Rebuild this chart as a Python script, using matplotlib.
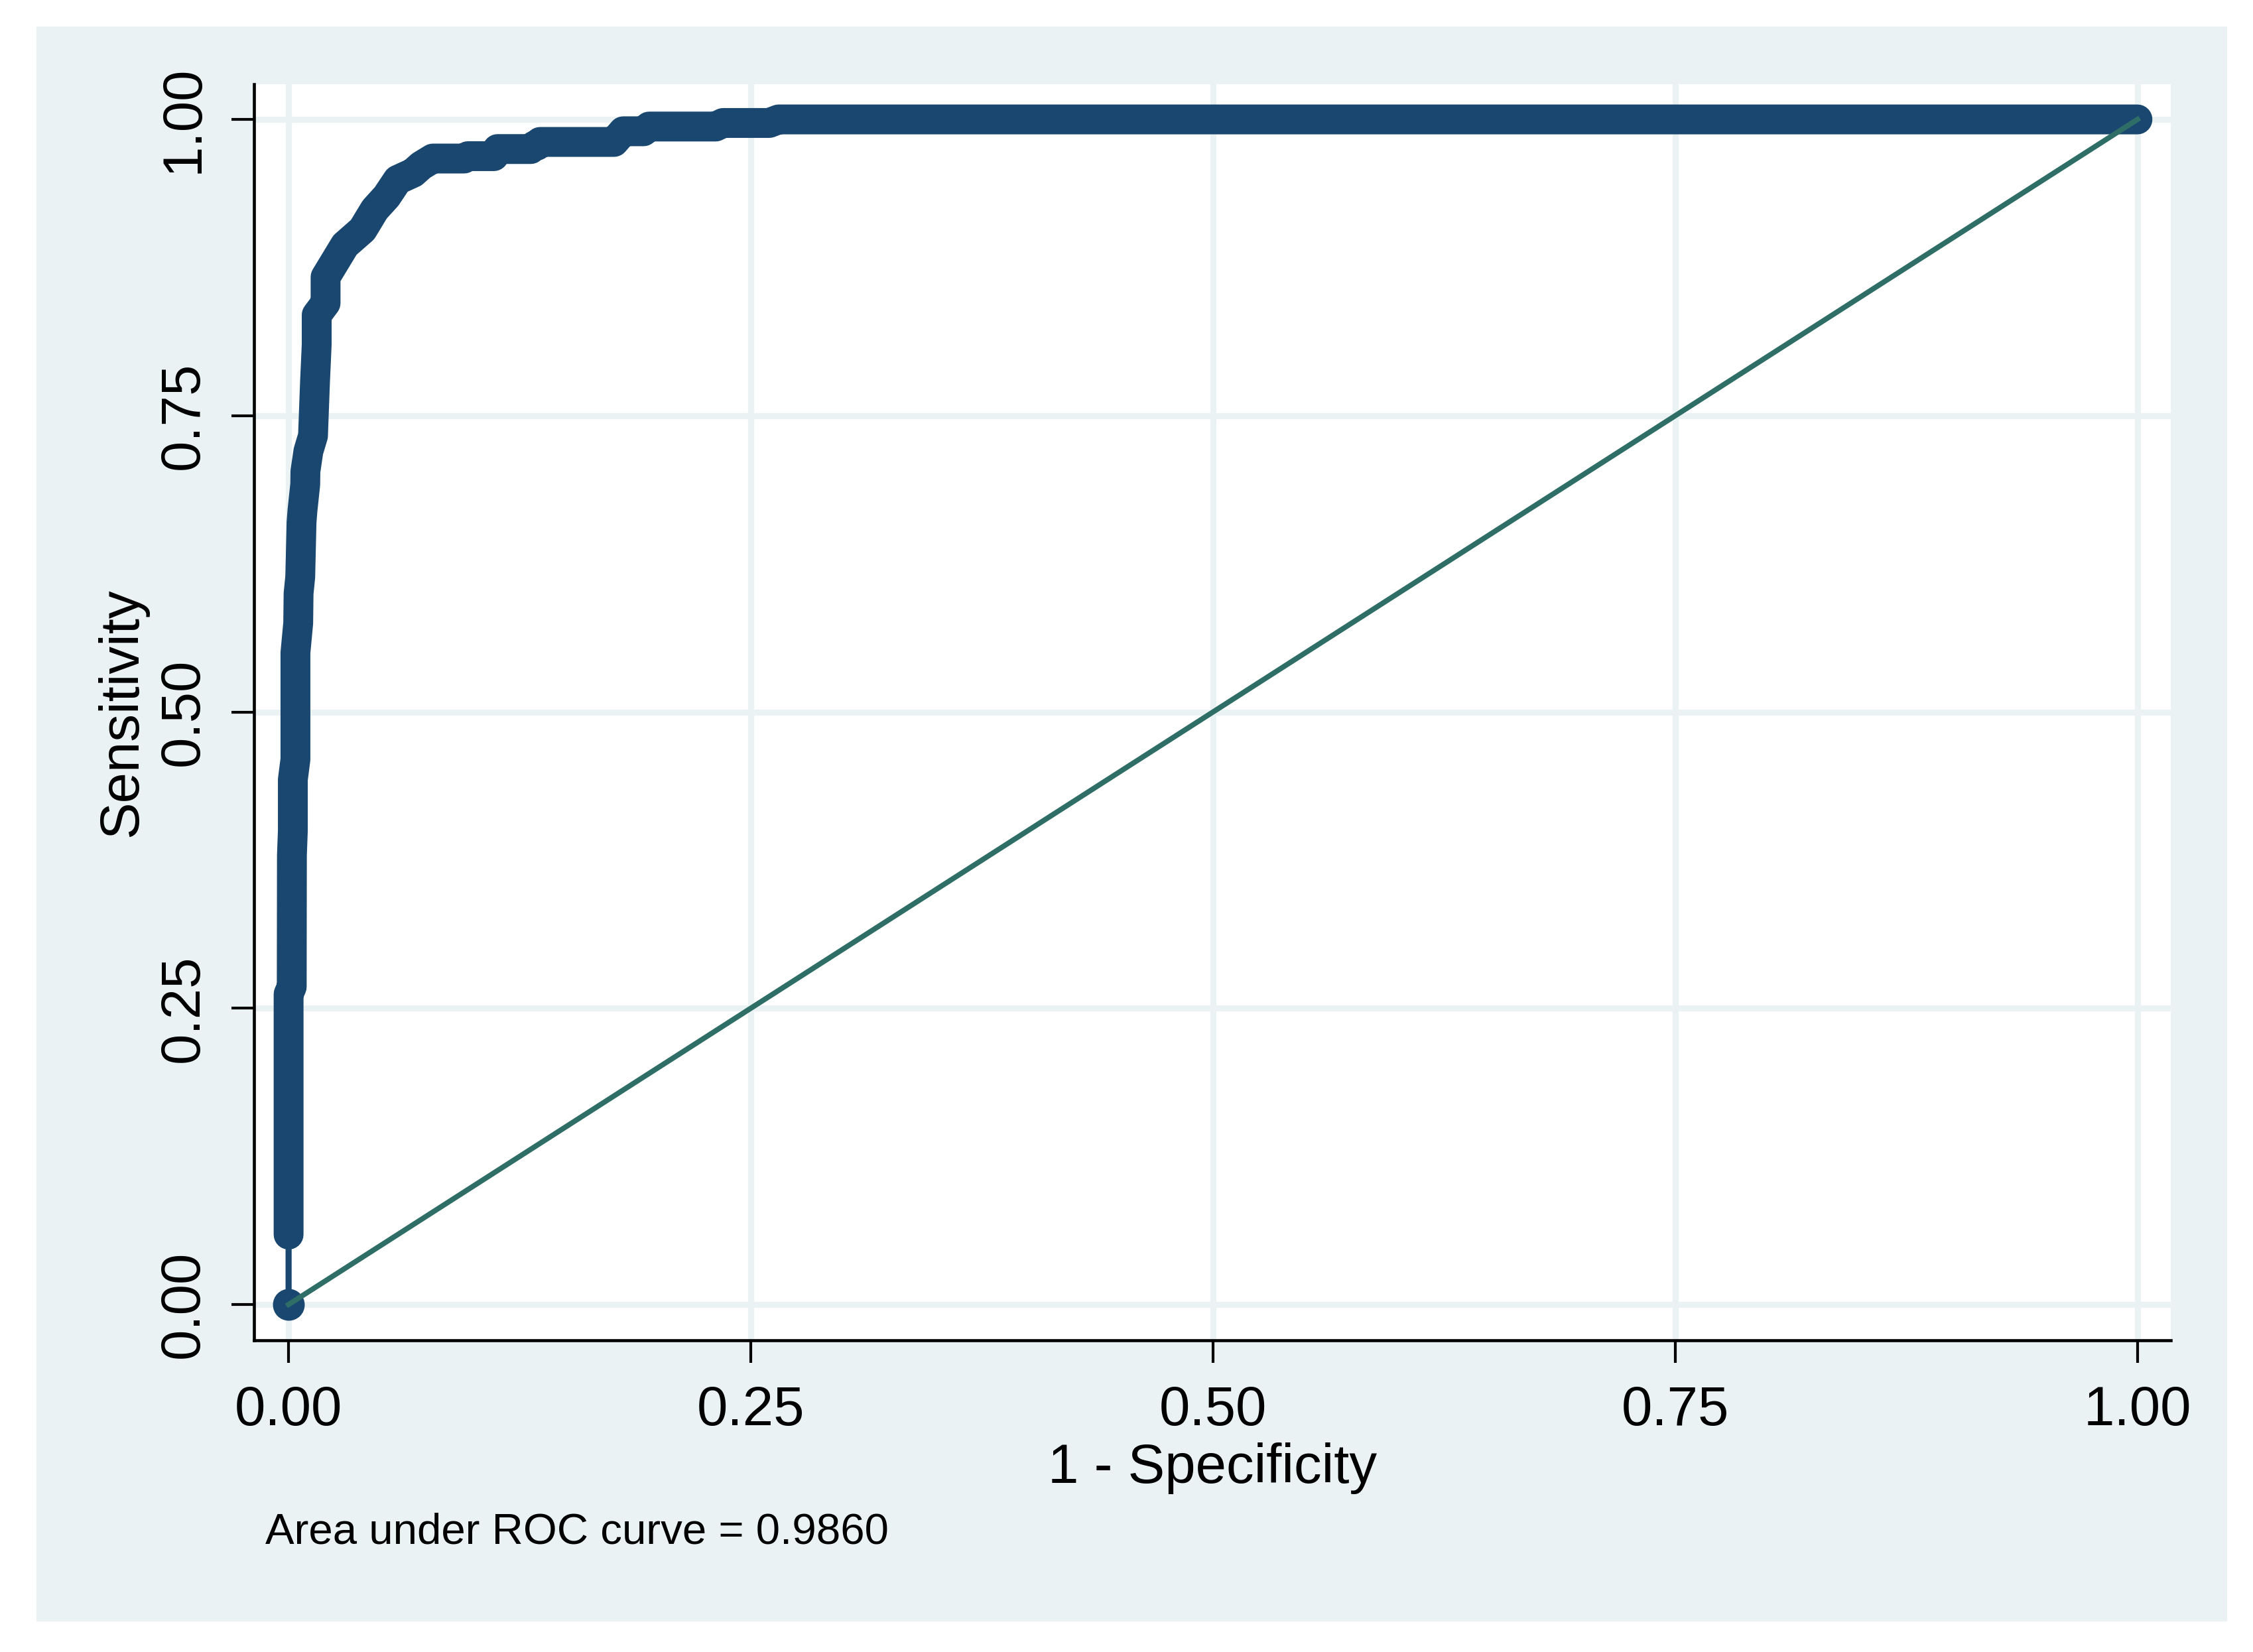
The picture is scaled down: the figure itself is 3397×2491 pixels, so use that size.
import matplotlib
matplotlib.use('Agg')  # no display in the sandbox
import matplotlib.pyplot as plt
from matplotlib.patches import Rectangle

# ROC curve points: (1 - specificity, sensitivity)
fpr = [0.0, 0.0, 0.0, 0.0017, 0.0018, 0.0023, 0.0023, 0.0037, 0.0037,
       0.0052, 0.0054, 0.0063, 0.0070, 0.0075, 0.0090, 0.0091, 0.0107,
       0.0132, 0.0137, 0.0143, 0.0152, 0.0152, 0.020, 0.020, 0.0305,
       0.040, 0.0466, 0.053, 0.059, 0.0674, 0.0717, 0.078, 0.095, 0.097,
       0.111, 0.113, 0.131, 0.133, 0.1345, 0.136, 0.176, 0.181, 0.192,
       0.195, 0.231, 0.235, 0.260, 0.265, 1.0]
tpr = [0.0, 0.059, 0.262, 0.268, 0.379, 0.400, 0.443, 0.460, 0.550,
       0.575, 0.600, 0.614, 0.660, 0.670, 0.692, 0.703, 0.720,
       0.733, 0.754, 0.779, 0.810, 0.835, 0.845, 0.867, 0.894,
       0.907, 0.924, 0.935, 0.949, 0.955, 0.961, 0.967, 0.967, 0.969,
       0.969, 0.975, 0.975, 0.978, 0.978, 0.981, 0.981, 0.990, 0.990,
       0.994, 0.994, 0.997, 0.997, 1.0, 1.0]

# reference (chance) line
ref_x = [0.0, 1.0]
ref_y = [0.0, 1.0]

ticks = [0.0, 0.25, 0.5, 0.75, 1.0]
tick_labels = ['0.00', '0.25', '0.50', '0.75', '1.00']
auc_note = 'Area under ROC curve = 0.9860'

NAVY = '#1A476F'
TEAL = '#2E6E66'
BG = '#EAF2F3'

plt.rcParams['font.family'] = ['Liberation Sans', 'DejaVu Sans']

W, H, DPI = 3397, 2491, 300
fig = plt.figure(figsize=(W / DPI, H / DPI), dpi=DPI, facecolor='white')

# light outer panel (graph region)
fig.patches.append(Rectangle((55 / W, 1 - 2445 / H), (3358 - 55) / W, (2445 - 40) / H,
                             transform=fig.transFigure, facecolor=BG,
                             edgecolor='none', zorder=-1))

ax = fig.add_axes([383 / W, 1 - 2021 / H, (3273 - 383) / W, (2021 - 127) / H])
ax.set_facecolor('white')
ax.set_xlim(-0.0187, 1.018)
ax.set_ylim(-0.0302, 1.0297)

ax.grid(True, color=BG, linewidth=2.2)
ax.set_axisbelow(True)

# thick band made by the overlapping markers, then the connecting line
ax.plot(fpr[1:], tpr[1:], color=NAVY, lw=10.8, solid_capstyle='round',
        solid_joinstyle='round', zorder=2)
ax.plot(fpr, tpr, color=NAVY, lw=2.2, zorder=2)
ax.plot(fpr[:1], tpr[:1], 'o', ms=10.5, color=NAVY, mec=NAVY, zorder=2)
ax.plot(ref_x, ref_y, color=TEAL, lw=1.9, zorder=3)

for side in ['top', 'right']:
    ax.spines[side].set_visible(False)
for side in ['left', 'bottom']:
    ax.spines[side].set_linewidth(1.1)
    ax.spines[side].set_color('black')

ax.set_xticks(ticks)
ax.set_xticklabels(tick_labels, fontsize=20)
ax.set_yticks(ticks)
ax.set_yticklabels(tick_labels, fontsize=20, rotation=90, va='center')
ax.tick_params(direction='out', length=8.2, width=1.0, pad=8, colors='black')

ax.set_xlabel('1 - Specificity', fontsize=20, labelpad=2)
ax.set_ylabel('Sensitivity', fontsize=20, labelpad=3.5)

fig.text(400 / W, 1 - 2328 / H, auc_note, fontsize=15.7, ha='left', va='baseline')

fig.savefig('out.png', dpi=DPI, facecolor='white')
plt.close(fig)
